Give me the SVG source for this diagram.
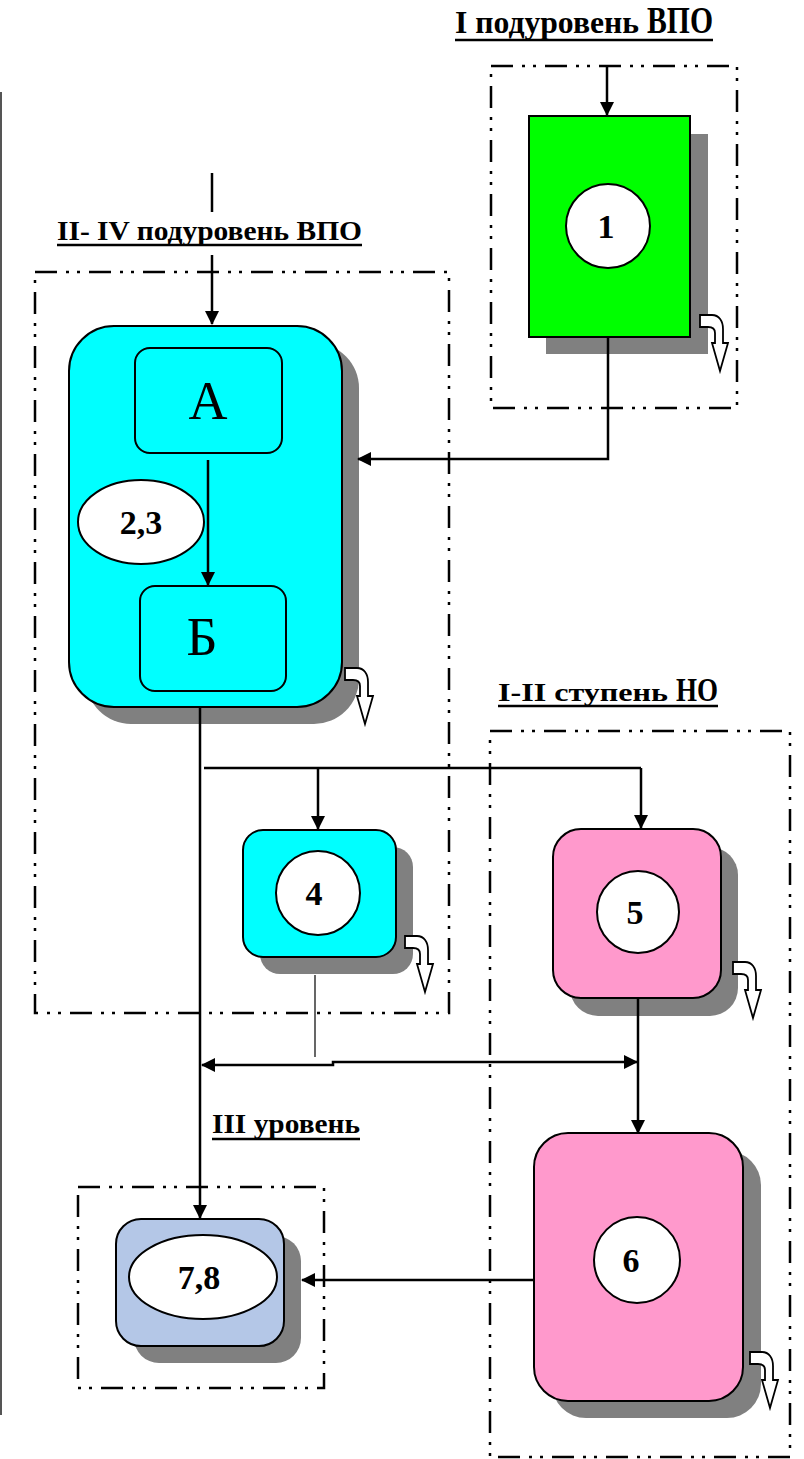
<svg xmlns="http://www.w3.org/2000/svg" width="804" height="1459" viewBox="0 0 804 1459">
  <style>
    .frame { fill: none; stroke: #000; stroke-width: 2.5; stroke-dasharray: 22 9 3 8 3 9; }
    .shadow { fill: #808080; stroke: none; }
    .box { stroke: #000; stroke-width: 2; }
    .oval { fill: #fff; stroke: #000; stroke-width: 2; }
    .num { font-family: "Liberation Serif", "Times New Roman", serif; font-weight: bold; font-size: 34px; text-anchor: middle; fill: #000; }
    .big { font-family: "Liberation Serif", "Times New Roman", serif; font-size: 54px; text-anchor: middle; fill: #000; }
    .title { font-family: "Liberation Serif", "Times New Roman", serif; font-weight: bold; fill: #000; }
    .uline { stroke: #000; stroke-width: 2.5; }
    .wire { fill: none; stroke: #000; stroke-width: 2.5; }
    .thin { fill: none; stroke: #000; stroke-width: 1.2; }
    .bend { fill: #fff; stroke: #000; stroke-width: 1.8; stroke-linejoin: miter; }
  </style>
  <defs>
    <marker id="ah" viewBox="0 0 14 14" refX="13" refY="7" markerWidth="14" markerHeight="14" markerUnits="userSpaceOnUse" orient="auto-start-reverse">
      <path d="M0,0 L14,7 L0,14 Z" fill="#000"/>
    </marker>
    <!-- bent outgoing arrow used at the lower-right corner of every block -->
    <path id="bent" d="M0,0 H12 C19,0 23,6 23,14 V28 H28 L20,56 L12,28 H15 V18 C15,14 12,12 8,12 H0 Z"/>
  </defs>

  <!-- left margin rule -->
  <line x1="1" y1="92" x2="1" y2="1415" stroke="#555" stroke-width="2"/>

  <!-- titles -->
  <g id="title-1">
    <text class="title" x="455" y="33" font-size="31" textLength="184" lengthAdjust="spacingAndGlyphs">I подуровень</text>
    <text class="title" x="647" y="33" font-size="38" textLength="66" lengthAdjust="spacingAndGlyphs">ВПО</text>
    <line class="uline" x1="455" y1="40" x2="713" y2="40"/>
  </g>
  <g id="title-2">
    <text class="title" x="57" y="240" font-size="28" textLength="305" lengthAdjust="spacingAndGlyphs">II- IV подуровень ВПО</text>
    <line class="uline" x1="57" y1="245" x2="362" y2="245"/>
  </g>
  <g id="title-3">
    <text class="title" x="498" y="701" font-size="26" textLength="170" lengthAdjust="spacingAndGlyphs">I-II ступень</text>
    <text class="title" x="676" y="701" font-size="33" textLength="42" lengthAdjust="spacingAndGlyphs">НО</text>
    <line class="uline" x1="498" y1="706" x2="718" y2="706"/>
  </g>
  <g id="title-4">
    <text class="title" x="212" y="1133" font-size="27" textLength="148" lengthAdjust="spacingAndGlyphs">III уровень</text>
    <line class="uline" x1="212" y1="1139" x2="360" y2="1139"/>
  </g>

  <!-- level frames -->
  <g id="frames">
    <rect class="frame" x="491" y="66" width="246" height="342"/>
    <rect class="frame" x="35" y="272" width="414" height="741"/>
    <rect class="frame" x="490" y="731" width="300" height="726"/>
    <rect class="frame" x="78" y="1187" width="246" height="201"/>
  </g>

  <!-- block 1 -->
  <g id="node-1">
    <rect class="shadow" x="546" y="134" width="162" height="220"/>
    <rect class="box" x="529" y="116" width="161" height="221" fill="#00ff00"/>
    <circle class="oval" cx="608" cy="226" r="42"/>
    <text class="num" x="606" y="238">1</text>
    <use href="#bent" class="bend" x="700" y="315"/>
  </g>

  <!-- block 2,3 with sub-blocks А and Б -->
  <g id="node-23">
    <rect class="shadow" x="86" y="343" width="273" height="381" rx="45"/>
    <rect class="box" x="69" y="326" width="273" height="381" rx="45" fill="#00ffff"/>
    <rect class="box" x="135" y="348" width="147" height="105" rx="15" fill="#00ffff"/>
    <text class="big" x="208" y="419">А</text>
    <rect class="box" x="140" y="586" width="146" height="105" rx="15" fill="#00ffff"/>
    <text class="big" x="202" y="655">Б</text>
    <ellipse class="oval" cx="141" cy="522" rx="63" ry="42"/>
    <text class="num" x="141" y="534">2,3</text>
    <use href="#bent" class="bend" x="345" y="668"/>
  </g>

  <!-- block 4 -->
  <g id="node-4">
    <rect class="shadow" x="260" y="847" width="153" height="127" rx="20"/>
    <rect class="box" x="243" y="830" width="153" height="127" rx="20" fill="#00ffff"/>
    <circle class="oval" cx="318" cy="893" r="42"/>
    <text class="num" x="314" y="905">4</text>
    <use href="#bent" class="bend" x="405" y="936"/>
  </g>

  <!-- block 5 -->
  <g id="node-5">
    <rect class="shadow" x="570" y="847" width="168" height="169" rx="28"/>
    <rect class="box" x="553" y="829" width="168" height="169" rx="28" fill="#ff99cc"/>
    <circle class="oval" cx="638" cy="912" r="41"/>
    <text class="num" x="635" y="924">5</text>
    <use href="#bent" class="bend" x="733" y="962"/>
  </g>

  <!-- block 6 -->
  <g id="node-6">
    <rect class="shadow" x="552" y="1151" width="209" height="267" rx="34"/>
    <rect class="box" x="534" y="1133" width="209" height="268" rx="34" fill="#ff99cc"/>
    <circle class="oval" cx="637" cy="1260" r="43"/>
    <text class="num" x="631" y="1272">6</text>
    <use href="#bent" class="bend" x="750" y="1352"/>
  </g>

  <!-- block 7,8 -->
  <g id="node-78">
    <rect class="shadow" x="134" y="1236" width="167" height="127" rx="25"/>
    <rect class="box" x="116" y="1219" width="168" height="127" rx="25" fill="#b4c7e7"/>
    <ellipse class="oval" cx="203" cy="1277" rx="74" ry="42"/>
    <text class="num" x="199" y="1289">7,8</text>
  </g>

  <!-- connectors -->
  <g id="connectors">
    <line class="wire" x1="607" y1="66" x2="607" y2="115" marker-end="url(#ah)"/>
    <line class="wire" x1="212" y1="173" x2="212" y2="212"/>
    <line class="wire" x1="212" y1="255" x2="212" y2="324" marker-end="url(#ah)"/>
    <polyline class="wire" points="608,337 608,459 358,459" marker-end="url(#ah)"/>
    <line class="wire" x1="208" y1="460" x2="208" y2="585" marker-end="url(#ah)"/>
    <line class="wire" x1="200" y1="707" x2="200" y2="1218" marker-end="url(#ah)"/>
    <line class="wire" x1="204" y1="768" x2="641" y2="768"/>
    <line class="wire" x1="318" y1="768" x2="318" y2="829" marker-end="url(#ah)"/>
    <line class="wire" x1="641" y1="768" x2="641" y2="828" marker-end="url(#ah)"/>
    <line class="thin" x1="315" y1="975" x2="315" y2="1057"/>
    <polyline class="wire" points="202,1065 333,1065 333,1062 637,1062" marker-start="url(#ah)" marker-end="url(#ah)"/>
    <line class="wire" x1="638" y1="998" x2="638" y2="1133" marker-end="url(#ah)"/>
    <line class="wire" x1="534" y1="1280" x2="302" y2="1280" marker-end="url(#ah)"/>
  </g>
</svg>
